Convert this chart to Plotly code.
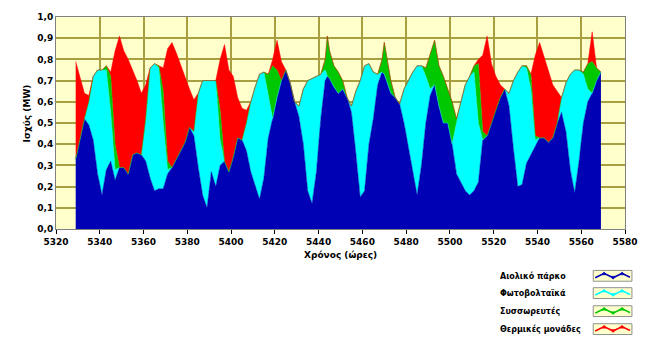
import plotly.graph_objects as go

# ---------------- data ----------------
hours = [5329, 5331, 5333, 5335, 5337, 5339, 5341, 5343, 5345, 5347,
         5349, 5351, 5353, 5355, 5357, 5359, 5361, 5363, 5365, 5367,
         5369, 5371, 5373, 5375, 5377, 5379, 5381, 5383, 5385, 5387,
         5389, 5391, 5393, 5395, 5397, 5399, 5401, 5403, 5405, 5407,
         5409, 5411, 5413, 5415, 5417, 5419, 5421, 5423, 5425, 5427,
         5429, 5431, 5433, 5435, 5437, 5439, 5441, 5443, 5444, 5445,
         5447, 5449, 5451, 5453, 5455, 5457, 5459, 5461, 5463, 5465,
         5467, 5469, 5470, 5471, 5473, 5475, 5477, 5479, 5481, 5483,
         5485, 5487, 5489, 5491, 5493, 5495, 5497, 5499, 5501, 5503,
         5505, 5507, 5509, 5511, 5513, 5515, 5517, 5519, 5521, 5523,
         5525, 5527, 5529, 5531, 5533, 5535, 5537, 5539, 5541, 5543,
         5545, 5547, 5549, 5551, 5553, 5555, 5557, 5559, 5561, 5563,
         5565, 5567, 5569]

wind = [.33, .43, .52, .49, .42, .26, .16, .28, .32, .23,
        .29, .29, .26, .35, .36, .35, .32, .24, .18, .19,
        .19, .26, .29, .33, .37, .41, .48, .44, .29, .16,
        .10, .27, .20, .30, .32, .27, .34, .43, .42, .37,
        .27, .20, .14, .24, .43, .52, .62, .70, .75, .69,
        .60, .53, .40, .18, .12, .27, .52, .70, .72, .71,
        .67, .64, .66, .62, .55, .36, .15, .18, .40, .52,
        .68, .74, .73, .70, .64, .62, .59, .50, .38, .27,
        .16, .30, .50, .63, .68, .58, .50, .50, .40, .26,
        .22, .18, .16, .18, .22, .42, .44, .50, .57, .62,
        .66, .58, .38, .20, .21, .31, .35, .39, .43, .43,
        .41, .43, .50, .55, .46, .28, .17, .32, .50, .60,
        .64, .70, .74]

pv = [0, 0, 0, .11, .30, .49, .59, .47, .23, .05,
      0, 0, 0, 0, 0, 0, .20, .52, .60, .57,
      .31, .02, 0, 0, 0, 0, 0, .02, .35, .54,
      .60, .43, .50, .12, 0, 0, 0, 0, 0, .13,
      .33, .47, .59, .50, .19, 0, 0, 0, 0, 0,
      0, .05, .26, .52, .59, .45, .21, .05, 0, 0,
      0, 0, 0, 0, .03, .29, .55, .59, .38, .22,
      .05, 0, 0, 0, 0, 0, 0, .16, .32, .47,
      .61, .47, .22, .03, 0, 0, 0, 0, 0, .24,
      .38, .50, .56, .56, .28, 0, 0, 0, 0, 0,
      0, .06, .32, .54, .56, .45, .31, .03, 0, 0,
      0, 0, 0, .07, .23, .45, .58, .43, .23, .06,
      0, 0, 0]

battery = [0, 0, 0, 0, 0, 0, 0, .02, .17, .12,
           0, 0, 0, 0, 0, 0, 0, 0, 0, .01,
           .15, .04, 0, 0, 0, 0, 0, 0, 0, 0,
           0, 0, 0, .14, 0, 0, 0, 0, 0, 0,
           0, 0, 0, 0, .11, .25, .13, 0, 0, 0,
           0, 0, 0, 0, 0, 0, 0, .05, .19, .13,
           .10, .10, .04, 0, 0, 0, 0, 0, 0, 0,
           0, .06, .15, .12, .06, 0, 0, 0, 0, 0,
           0, 0, .04, .17, .21, .19, .22, .16, .20, .02,
           0, 0, 0, .03, .28, .04, 0, 0, 0, 0,
           0, 0, 0, 0, 0, .01, .07, .02, 0, 0,
           0, 0, 0, 0, 0, 0, 0, 0, .01, .12,
           .15, .06, 0]

thermal = [.46, .28, .12, .03, 0, 0, 0, 0, .02, .44,
           .62, .55, .54, .40, .34, .29, .16, 0, 0, 0,
           .11, .53, .59, .50, .40, .31, .18, .15, 0, 0,
           0, 0, 0, .24, .55, .48, .38, .19, .15, .06,
           0, 0, 0, 0, 0, .03, .14, .09, 0, 0,
           0, 0, 0, 0, 0, 0, 0, 0, 0, 0,
           0, 0, 0, 0, 0, 0, 0, 0, 0, 0,
           0, 0, 0, 0, 0, 0, 0, 0, 0, 0,
           0, 0, 0, 0, 0, 0, 0, 0, 0, 0,
           0, 0, 0, 0, .02, .36, .47, .28, .15, .06,
           0, 0, 0, 0, 0, 0, 0, .38, .45, .38,
           .34, .25, .15, 0, 0, 0, 0, 0, 0, 0,
           .14, 0, 0]

series_names = ["Αιολικό πάρκο", "Φωτοβολταϊκά", "Συσσωρευτές", "Θερμικές μονάδες"]
x_title = "Χρόνος (ώρες)"
y_title = "Ισχύς (MW)"

# ---------------- style ----------------
colors = ["#0000B4", "#00FFFF", "#00C800", "#FF0000"]
W, H = 650, 341
L, R, T, B = 56, 21, 13, 112
PW, PH = W - L - R, H - T - B
FONT = "DejaVu Sans"
GRID = "#A8A040"


def px(x):
    return (x - L) / PW


def py(y):
    return (H - B - y) / PH


fig = go.Figure()
for name, vals, col in zip(series_names, [wind, pv, battery, thermal], colors):
    fig.add_trace(go.Scatter(
        x=hours, y=vals, name=name, mode="lines", stackgroup="one",
        line=dict(width=0.5, color=col), fillcolor=col, showlegend=False,
        hoverinfo="x+y+name"))

annotations = [
    dict(text=f"<b>{x_title}</b>", x=0.5, y=py(255), xref="paper", yref="paper",
         showarrow=False, font=dict(family=FONT, size=9, color="black"),
         xanchor="center", yanchor="middle"),
    dict(text=f"<b>{y_title}</b>", x=px(27), y=py(111), xref="paper", yref="paper",
         showarrow=False, textangle=-90, font=dict(family=FONT, size=9, color="black"),
         xanchor="center", yanchor="middle"),
]

shapes = []
rows = [276.7, 294.3, 312.7, 331.0]
for name, col, c in zip(series_names, colors, rows):
    annotations.append(dict(
        text=f"<b>{name}</b>", x=px(501), y=py(c), xref="paper", yref="paper",
        showarrow=False, xanchor="left", yanchor="middle",
        font=dict(family=FONT, size=8, color="black")))
    shapes.append(dict(type="rect", xref="paper", yref="paper",
                       x0=px(597), x1=px(636), y0=py(c + 5.5), y1=py(c - 5.5),
                       fillcolor="#FFFFCC", line=dict(color="#909090", width=1)))
    pts = [(599, c + 2), (608, c - 2.5), (617, c + 2), (626, c - 2.5), (634, c + 1.5)]
    path = "M " + " L ".join(f"{px(a)},{py(b)}" for a, b in pts)
    shapes.append(dict(type="path", xref="paper", yref="paper", path=path,
                       line=dict(color=col, width=1.6)))
    for i, (a, b) in enumerate(pts[1:-1]):
        if i % 2 == 0:
            tri = [(a - 2.5, b + 1.5), (a + 2.5, b + 1.5), (a, b - 1.5)]
        else:
            tri = [(a - 2.5, b - 1.5), (a + 2.5, b - 1.5), (a, b + 1.5)]
        tpath = "M " + " L ".join(f"{px(u)},{py(v)}" for u, v in tri) + " Z"
        shapes.append(dict(type="path", xref="paper", yref="paper", path=tpath,
                           fillcolor=col, line=dict(color=col, width=0.5)))

fig.update_layout(
    width=W, height=H,
    margin=dict(l=L, r=R, t=T, b=B, pad=0),
    paper_bgcolor="white", plot_bgcolor="#FFFFCC",
    separators=", ",
    font=dict(family=FONT, size=9, color="black"),
    xaxis=dict(range=[5320, 5580], tick0=5320, dtick=20, tickformat="d",
               showgrid=True, gridcolor=GRID, gridwidth=1.5, zeroline=False,
               ticks="outside", ticklen=4, tickcolor="black", tickwidth=1,
               showline=True, linecolor="#808080", linewidth=1, mirror=True,
               tickfont=dict(family=FONT, size=9, color="black", weight="bold")),
    yaxis=dict(range=[0, 1.0], tick0=0, dtick=0.1, tickformat=".1f",
               showgrid=True, gridcolor=GRID, gridwidth=1.5, zeroline=False,
               ticks="", showline=True, linecolor="#808080", linewidth=1, mirror=True,
               tickfont=dict(family=FONT, size=9, color="black", weight="bold")),
    annotations=annotations,
    shapes=shapes,
)

fig.write_html("out.html")
